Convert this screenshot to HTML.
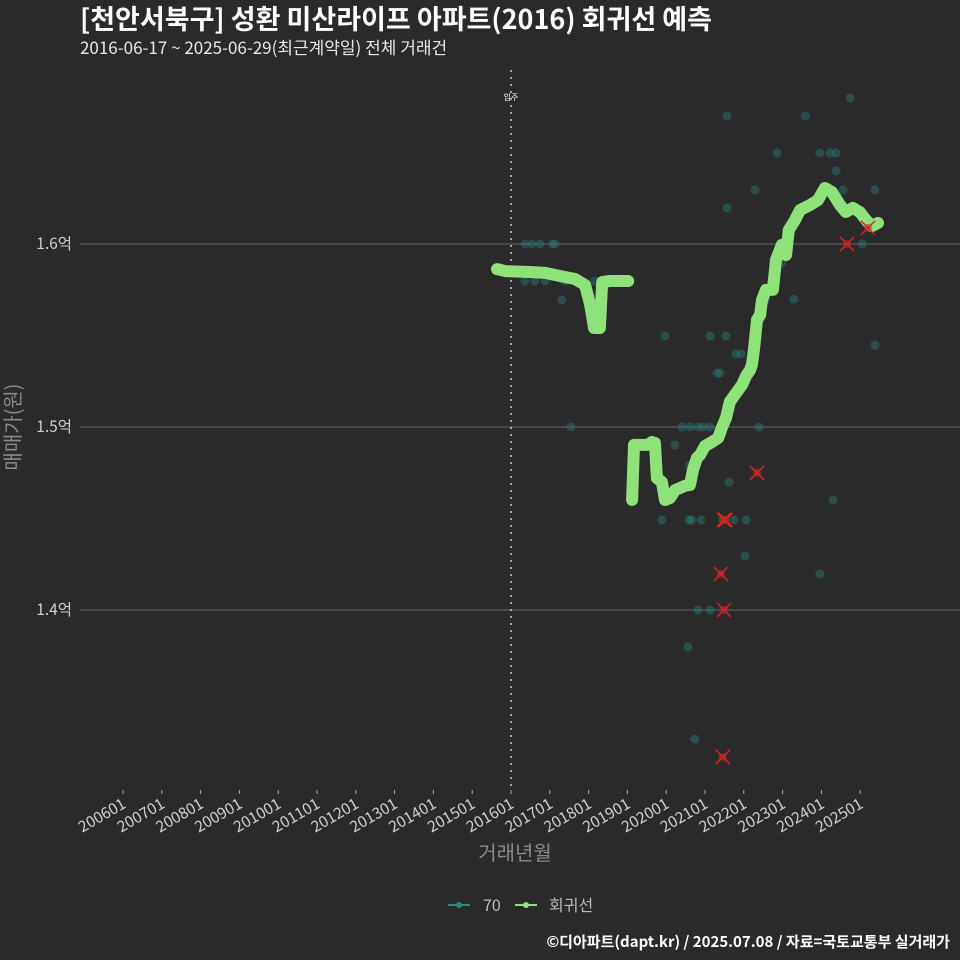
<!DOCTYPE html>
<html><head><meta charset="utf-8"><style>
body{margin:0;background:#2b2a2b;}
svg{display:block;font-family:"Noto Sans CJK KR","Liberation Sans",sans-serif;}
</style></head><body>
<svg id="chart" width="960" height="960">
<rect width="960" height="960" fill="#2b2a2b"/>
<text x="80" y="29" fill="#fff" font-size="27" font-weight="bold">[천안서북구] 성환 미산라이프 아파트(2016) 회귀선 예측</text>
<text x="80" y="54" fill="#e8e8e8" font-size="17">2016-06-17 ~ 2025-06-29(최근계약일) 전체 거래건</text>
<g id="grid"></g>
<g id="xaxis"></g>
<line x1="511" y1="70" x2="511" y2="790" stroke="#cccccc" stroke-width="1.5" stroke-dasharray="2,5"/>
<text x="511" y="100" fill="#fff" font-size="8" text-anchor="middle">입주</text>
<g id="pts"></g>
<g id="line"></g>
<g id="xs"></g>
<text x="0" y="0" transform="translate(20,427) rotate(-90)" fill="#8a8a8a" font-size="20" text-anchor="middle">매매가(원)</text>
<text x="515" y="860" fill="#8a8a8a" font-size="20" text-anchor="middle">거래년월</text>
<g>
<g><line x1="448" y1="905" x2="470" y2="905" stroke="#2a8a87" stroke-width="2"/><circle cx="459" cy="905" r="3" fill="#2a8a87"/><text x="483" y="911" fill="#bbb" font-size="16">70</text></g>
<g><line x1="515" y1="905" x2="537" y2="905" stroke="#8fe27a" stroke-width="2"/><circle cx="526" cy="905" r="3" fill="#8fe27a"/><text x="549" y="911" fill="#bbb" font-size="16">회귀선</text></g>
</g>
<text x="950" y="947" fill="#fff" font-size="15" font-weight="bold" text-anchor="end">©디아파트(dapt.kr) / 2025.07.08 / 자료=국토교통부 실거래가</text>
</svg>
<script>
const yTicks=[16000,15000,14000];
const yTickLabels=["1.6억","1.5억","1.4억"];
const xTickYears=[2006,2007,2008,2009,2010,2011,2012,2013,2014,2015,2016,2017,2018,2019,2020,2021,2022,2023,2024,2025];
const xTickLabels=["200601","200701","200801","200901","201001","201101","201201","201301","201401","201501","201601","201701","201801","201901","202001","202101","202201","202301","202401","202501"];
const line1Year=[2015.64,2015.85,2016.49,2016.88,2017.26,2017.65,2017.91,2018.04,2018.14,2018.29,2018.35,2018.55,2019.02];
const line1Val=[15863,15852,15847,15842,15825,15809,15776,15667,15541,15541,15792,15798,15798];
const line2Year=[2019.12,2019.17,2019.53,2019.63,2019.71,2019.76,2019.89,2019.97,2020.10,2020.23,2020.36,2020.48,2020.61,2020.69,2020.79,2020.87,2021.00,2021.18,2021.34,2021.44,2021.54,2021.64,2021.82,2021.95,2022.06,2022.16,2022.21,2022.26,2022.34,2022.42,2022.47,2022.57,2022.75,2022.83,2022.98,2023.09,2023.16,2023.32,2023.45,2023.71,2023.91,2024.09,2024.27,2024.48,2024.63,2024.81,2024.99,2025.15,2025.30,2025.46];
const line2Val=[14601,14902,14902,14918,14913,14721,14699,14601,14612,14656,14667,14678,14683,14765,14831,14847,14896,14918,14940,15000,15049,15137,15191,15229,15279,15311,15339,15421,15585,15612,15694,15749,15749,15913,15995,15940,16077,16131,16186,16213,16240,16306,16284,16213,16175,16197,16175,16131,16098,16115];
const ptYear=[2016.36,2016.54,2016.75,2017.06,2017.13,2016.36,2016.62,2016.88,2017.39,2017.31,2017.55,2018.16,2019.97,2021.13,2021.54,2021.80,2021.93,2021.31,2021.39,2020.41,2020.61,2020.82,2020.95,2021.13,2022.39,2020.23,2020.61,2021.62,2019.89,2020.59,2020.66,2020.90,2021.46,2021.75,2022.06,2022.03,2020.82,2021.13,2020.56,2020.74,2021.57,2022.86,2023.58,2023.96,2024.22,2024.38,2024.74,2022.29,2021.57,2024.38,2024.56,2025.38,2022.98,2023.29,2022.57,2025.05,2025.38,2024.30,2023.96];
const ptVal=[16000,16000,16000,16000,16000,15798,15798,15798,15798,15694,15000,15798,15497,15497,15497,15399,15399,15295,15295,15000,15000,15000,15000,15000,15000,14902,14792,14699,14492,14492,14492,14492,14492,14492,14492,14295,14000,14000,13798,13295,16699,16497,16699,16497,16497,16497,16798,16295,16197,16399,16295,16295,15896,15699,15694,16000,15448,14601,14197];
const xYear=[2021.49,2021.53,2021.41,2021.49,2021.46,2022.34,2024.66,2025.20];
const xVal=[14492,14492,14197,14000,13197,14749,16000,16088];
const X=y=>123+(y-2006)*38.8;
const Y=v=>244+(16000-v)*0.183;
const NS='http://www.w3.org/2000/svg';
function mk(tag,attrs,parent){const e=document.createElementNS(NS,tag);for(const k in attrs)e.setAttribute(k,attrs[k]);document.getElementById(parent).appendChild(e);return e;}
yTicks.forEach((v,i)=>{
 const l=mk('line',{x1:80,x2:960,y1:Y(v),y2:Y(v),stroke:'#5a5a5a','stroke-width':1.2},'grid');
 
 
 const t=mk('text',{x:72,y:Y(v)+5,fill:'#d0d0d0','font-size':15.5,'text-anchor':'end'},'grid');
 t.textContent=yTickLabels[i];
 
 
});
xTickYears.forEach((yr,i)=>{
 const x=X(yr);
 const tk=mk('line',{x1:x,x2:x,y1:790,y2:794,stroke:'#aaa'},'xaxis');
 
 
 const t=mk('text',{x:0,y:0,fill:'#d0d0d0','font-size':15.5,'text-anchor':'end',transform:`translate(${x+4},${807}) rotate(-30)`},'xaxis');
 t.textContent=xTickLabels[i];
 
 
});
ptYear.forEach((yr,i)=>{
 const c=mk('circle',{cx:X(yr),cy:Y(ptVal[i]),r:4.5,fill:'#2a8a87','fill-opacity':0.38},'pts');
 
 
});
[[line1Year,line1Val],[line2Year,line2Val]].forEach(([ys,vs])=>{
 const d=ys.map((yr,i)=>(i?'L':'M')+X(yr).toFixed(1)+','+Y(vs[i]).toFixed(1)).join('');
 const p=mk('path',{d:d,fill:'none',stroke:'#8fe27a','stroke-width':12,'stroke-linejoin':'round','stroke-linecap':'round'},'line');
 
 
});
xYear.forEach((yr,i)=>{
 const x=X(yr),y=Y(xVal[i]);
 const g=mk('g',{},'xs');
 
 
 const c=document.createElementNS(NS,'circle');c.setAttribute('cx',x);c.setAttribute('cy',y);c.setAttribute('r',4);c.setAttribute('fill','#b03030');c.setAttribute('fill-opacity','0.6');g.appendChild(c);
 const p=document.createElementNS(NS,'path');p.setAttribute('d',`M${x-7},${y-7}L${x+7},${y+7}M${x+7},${y-7}L${x-7},${y+7}`);p.setAttribute('stroke','#e02020');p.setAttribute('stroke-width',1.5);g.appendChild(p);
});
</script>
</body></html>
